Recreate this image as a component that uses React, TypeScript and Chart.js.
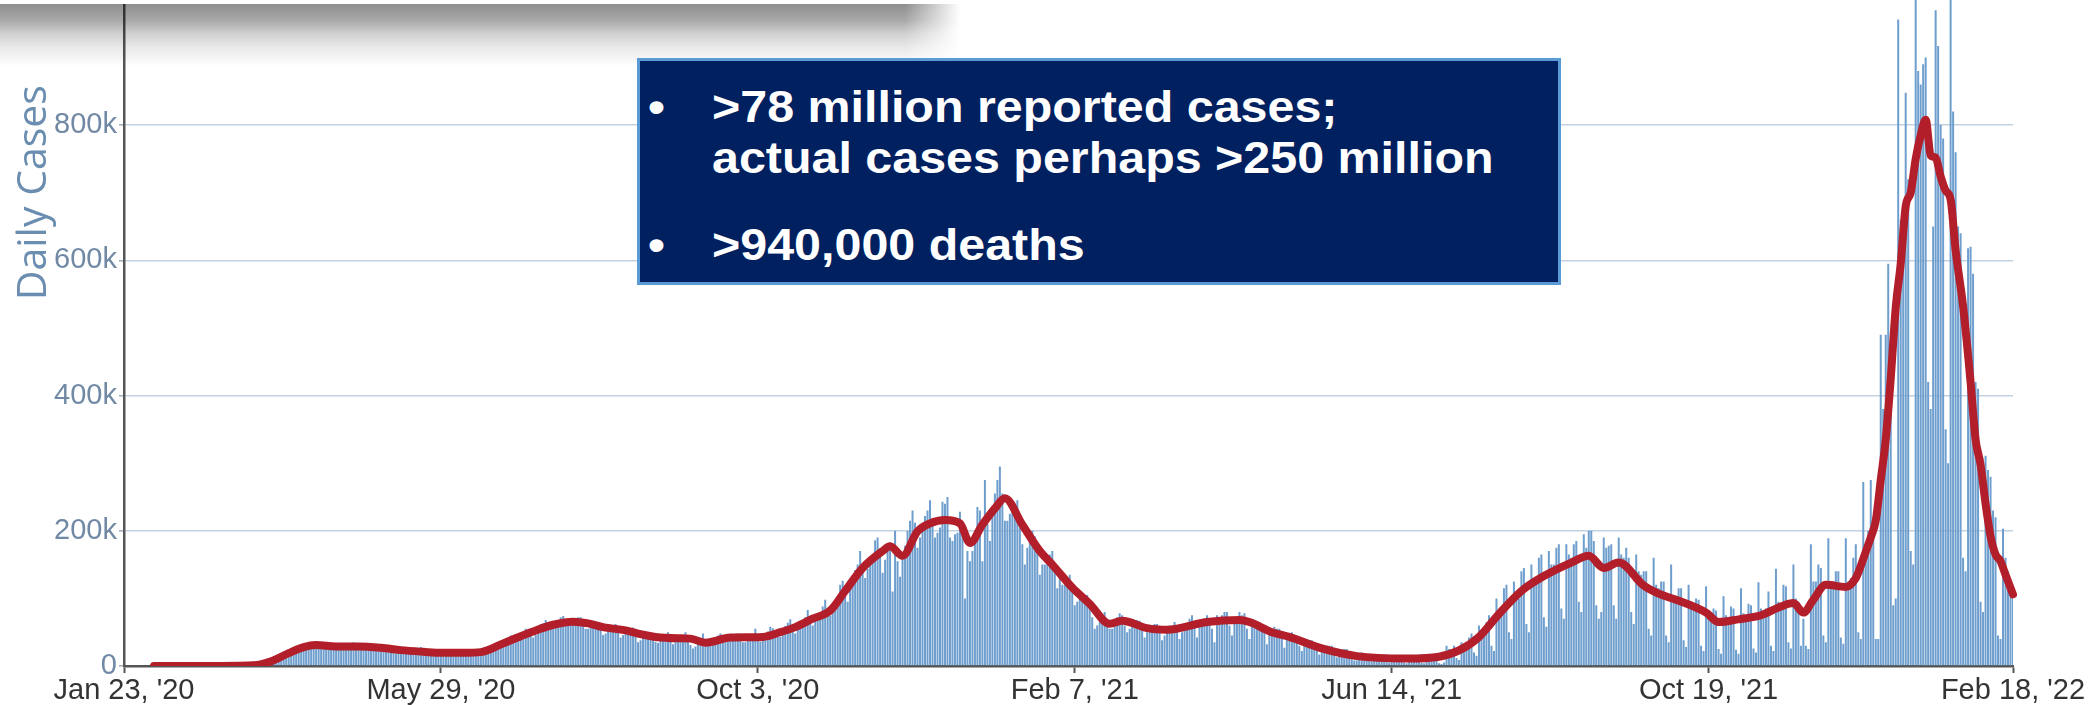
import React, { useEffect, useRef } from "react";
import { Chart, registerables } from "chart.js";

Chart.register(...registerables);

// ---- DATA ----
const startDate = "2020-01-23";

// Daily reported cases (thousands), one row per week starting on Thursday
const dailyCasesK = [
  0, 0, 0, 0, 0, 0, 0,
  0, 0, 0, 0, 0, 0, 0,
  0, 0, 0, 0, 0, 0, 0,
  0, 0, 0, 0, 0, 0, 0,
  0, 0, 0, 0, 0, 0, 0,
  0, 0, 0, 0, 0, 0.1, 0.1,
  0.1, 0.1, 0.1, 0.2, 0.2, 0.3, 0.5,
  0.5, 0.7, 0.9, 1.2, 1.8, 2.5, 3.5,
  4.6, 5.6, 6.9, 9, 10.5, 10, 12.8,
  17.5, 18.7, 19.5, 19, 20.5, 26, 25,
  29, 32, 33, 26, 29, 30, 31,
  34, 33, 30, 28, 25, 27, 29,
  32, 31, 29, 26, 26, 26, 28,
  33, 35, 32, 27, 24, 25, 29,
  30, 34, 29, 25, 23, 24, 25,
  28, 26, 25, 20, 18, 22, 21,
  27, 26, 24, 19, 21, 21, 21,
  28, 24, 23, 19, 19, 18, 19,
  22, 24, 23, 19, 18, 21, 20,
  22, 22, 21, 17, 17, 19, 21,
  23, 25, 25, 19, 19, 23, 26,
  28, 32, 31, 27, 29, 34, 38,
  40, 45, 43, 40, 42, 47, 51,
  55, 52, 45, 42, 46, 58, 62,
  63, 68, 61, 58, 60, 66, 67,
  72, 74, 65, 60, 60, 66, 70,
  72, 72, 64, 55, 55, 62, 67,
  66, 65, 58, 46, 48, 54, 55,
  58, 62, 55, 42, 46, 51, 54,
  54, 57, 48, 35, 38, 44, 46,
  47, 48, 43, 36, 34, 38, 43,
  45, 50, 42, 32, 36, 41, 42,
  44, 50, 43, 31, 26, 29, 34,
  35, 48, 40, 34, 33, 38, 40,
  45, 48, 43, 35, 36, 39, 39,
  47, 48, 43, 35, 35, 42, 43,
  46, 55, 47, 36, 38, 46, 51,
  58, 56, 48, 43, 43, 52, 59,
  64, 69, 55, 48, 56, 62, 62,
  72, 83, 73, 60, 67, 75, 79,
  88, 98, 86, 74, 89, 92, 103,
  120, 126, 108, 95, 118, 133, 142,
  150, 170, 152, 130, 144, 153, 160,
  186, 190, 165, 138, 157, 170, 183,
  110, 200, 155, 132, 160, 178, 200,
  215, 230, 212, 175, 190, 212, 222,
  230, 245, 218, 190, 197, 205, 243,
  240, 250, 190, 185, 195, 197, 228,
  200, 100, 170, 155, 170, 200, 235,
  230, 155, 275, 210, 185, 230, 255,
  275, 295, 255, 215, 215, 225, 230,
  240, 245, 205, 180, 150, 175, 190,
  200, 192, 170, 135, 150, 150, 160,
  165, 170, 145, 115, 135, 120, 120,
  130, 135, 110, 90, 95, 100, 100,
  105, 105, 90, 72, 55, 60, 65,
  70, 80, 70, 55, 55, 60, 72,
  78, 75, 60, 50, 55, 60, 65,
  68, 67, 55, 42, 50, 55, 58,
  62, 62, 50, 38, 45, 55, 60,
  60, 65, 55, 40, 50, 55, 62,
  70, 75, 60, 42, 60, 60, 70,
  75, 70, 55, 35, 75, 65, 75,
  80, 80, 60, 45, 65, 70, 80,
  75, 78, 55, 40, 60, 60, 65,
  65, 62, 50, 32, 50, 50, 58,
  55, 55, 40, 27, 42, 42, 50,
  45, 45, 30, 22, 34, 34, 38,
  38, 35, 25, 17, 25, 27, 30,
  30, 30, 18, 13, 22, 22, 25,
  25, 22, 10, 8, 8, 18, 20,
  17, 17, 9, 7, 13, 14, 15,
  14, 15, 7, 5, 12, 12, 13,
  13, 13, 5, 4, 13, 11, 12,
  14, 15, 5, 4, 17, 12, 14,
  16, 12, 4, 3, 5, 30, 25,
  25, 30, 12, 9, 35, 25, 28,
  42, 48, 20, 15, 60, 45, 48,
  65, 75, 30, 22, 100, 75, 78,
  115, 120, 50, 40, 125, 100, 100,
  140, 145, 62, 50, 150, 130, 130,
  160, 165, 72, 58, 170, 150, 150,
  175, 180, 85, 70, 180, 165, 160,
  180, 185, 95, 80, 195, 175, 200,
  200, 185, 90, 70, 80, 190, 175,
  178, 180, 90, 70, 190, 165, 160,
  175, 160, 80, 62, 165, 140, 135,
  140, 140, 55, 45, 160, 120, 115,
  125, 125, 45, 35, 150, 105, 100,
  115, 115, 38, 28, 120, 95, 90,
  100, 98, 30, 22, 118, 80, 75,
  85, 82, 25, 18, 103, 75, 72,
  88, 85, 24, 18, 115, 78, 72,
  92, 90, 26, 20, 124, 85, 80,
  85, 110, 30, 22, 144, 95, 90,
  120, 118, 35, 26, 150, 100, 95,
  30, 70, 30, 25, 180, 125, 125,
  150, 145, 45, 35, 189, 125, 125,
  140, 140, 42, 33, 189, 125, 130,
  160, 180, 50, 40, 272, 180, 200,
  275, 200, 40, 40, 490, 380, 490,
  595, 420, 90, 100, 956, 660, 680,
  848, 720, 170, 150, 1400, 880, 860,
  890, 900, 420, 380, 650, 970, 917,
  800, 780, 350, 300, 1050, 820, 760,
  650, 640, 160, 140, 618, 620, 580,
  420, 410, 95, 80, 311, 290, 280,
  230, 220, 45, 40, 203, 160, 140,
  115, 108,
];

// 7-day average (thousands)
const avgDates = [
  "2020-02-04", "2020-03-01", "2020-03-15", "2020-03-22", "2020-03-29", "2020-04-04", "2020-04-09",
  "2020-04-17", "2020-04-26", "2020-05-05", "2020-05-13", "2020-05-22", "2020-05-29", "2020-06-07",
  "2020-06-14", "2020-06-23", "2020-06-30", "2020-07-06", "2020-07-13", "2020-07-21", "2020-07-27",
  "2020-08-02", "2020-08-12", "2020-08-17", "2020-08-23", "2020-09-01", "2020-09-06", "2020-09-12",
  "2020-09-22", "2020-10-05", "2020-10-12", "2020-10-18", "2020-10-25", "2020-11-01", "2020-11-07",
  "2020-11-14", "2020-11-22", "2020-11-25", "2020-11-30", "2020-12-06", "2020-12-11", "2020-12-17",
  "2020-12-23", "2020-12-27", "2021-01-01", "2021-01-06", "2021-01-10", "2021-01-17", "2021-01-24",
  "2021-01-29", "2021-02-06", "2021-02-13", "2021-02-21", "2021-02-26", "2021-03-08", "2021-03-16",
  "2021-04-01", "2021-04-14", "2021-04-18", "2021-04-27", "2021-05-04", "2021-05-17", "2021-05-31",
  "2021-06-20", "2021-07-03", "2021-07-11", "2021-07-19", "2021-07-27", "2021-08-05", "2021-08-14",
  "2021-08-25", "2021-09-01", "2021-09-07", "2021-09-13", "2021-09-23", "2021-09-29", "2021-10-06",
  "2021-10-18", "2021-10-23", "2021-10-31", "2021-11-09", "2021-11-17", "2021-11-22", "2021-11-26",
  "2021-11-30", "2021-12-05", "2021-12-13", "2021-12-17", "2021-12-19", "2021-12-21", "2021-12-23",
  "2021-12-25", "2021-12-27", "2021-12-29", "2021-12-31", "2022-01-02", "2022-01-04", "2022-01-06",
  "2022-01-08", "2022-01-10", "2022-01-12", "2022-01-14", "2022-01-16", "2022-01-18", "2022-01-20",
  "2022-01-22", "2022-01-24", "2022-01-26", "2022-01-29", "2022-02-01", "2022-02-03", "2022-02-05",
  "2022-02-07", "2022-02-09", "2022-02-11", "2022-02-13", "2022-02-15", "2022-02-18",
];
const avgValuesK = [
  0, 0.1, 1, 7, 19, 28, 31,
  29, 29, 27, 23.5, 21, 19.5, 19.5,
  20.5, 33.5, 44, 52.5, 61, 65.5, 63,
  57.5, 52, 47, 43, 41, 40.5, 34.5,
  42, 43, 50, 57.5, 70, 82, 111,
  145, 170, 177, 163, 199, 211, 216,
  211, 182, 209, 233, 248, 209, 170,
  150, 116, 92, 62.5, 67, 56, 53.7,
  65, 68, 65, 50, 43, 26, 14.6,
  11, 13.7, 23, 43, 77, 111, 133,
  153, 163, 145, 153, 119, 107, 98,
  79, 65, 69, 75, 88, 93, 79,
  98, 120, 117, 130, 148, 169, 190,
  215, 275, 335, 425, 530, 595, 680,
  700, 750, 785, 808, 755, 752, 724,
  703, 690, 615, 532, 420, 335, 298,
  240, 192, 165, 155, 135, 106,
];

const tickDates = ["2020-01-23", "2020-05-29", "2020-10-03", "2021-02-07", "2021-06-14", "2021-10-19", "2022-02-18"];
const tickTexts = ["Jan 23, '20", "May 29, '20", "Oct 3, '20", "Feb 7, '21", "Jun 14, '21", "Oct 19, '21", "Feb 18, '22"];

const yMaxK = 1400;
const yStepK = 200;
const yTitle = "Daily Cases";

const calloutLines = [">78 million reported cases;", "actual cases perhaps >250 million", ">940,000 deaths"];

function buildDateLabels(start: string, n: number): string[] {
  const [y, m, d] = start.split("-").map(Number);
  const out: string[] = [];
  for (let i = 0; i < n; i++) {
    out.push(new Date(Date.UTC(y, m - 1, d + i)).toISOString().slice(0, 10));
  }
  return out;
}

export default function App() {
  const canvasRef = useRef<HTMLCanvasElement | null>(null);

  useEffect(() => {
    const labels = buildDateLabels(startDate, dailyCasesK.length);
    const indexOf = new Map<string, number>();
    labels.forEach((l, i) => indexOf.set(l, i));

    const avgSeries: (number | null)[] = labels.map(() => null);
    avgDates.forEach((d, i) => {
      const j = indexOf.get(d);
      if (j !== undefined) avgSeries[j] = avgValuesK[i];
    });

    const tickMap = new Map<number, string>();
    tickDates.forEach((d, i) => {
      const j = indexOf.get(d);
      if (j !== undefined) tickMap.set(j, tickTexts[i]);
    });

    const chart = new Chart(canvasRef.current as HTMLCanvasElement, {
      type: "bar",
      data: {
        labels,
        datasets: [
          {
            type: "line",
            data: avgSeries,
            borderColor: "#b21f2a",
            borderWidth: 8,
            pointRadius: 0,
            spanGaps: true,
            cubicInterpolationMode: "monotone",
            borderJoinStyle: "round",
            borderCapStyle: "round",
            fill: false,
          } as any,
          {
            type: "bar",
            data: dailyCasesK,
            backgroundColor: "#6e9ecd",
            barPercentage: 0.8,
            categoryPercentage: 1,
          } as any,
        ],
      },
      options: {
        animation: false,
        responsive: true,
        maintainAspectRatio: false,
        layout: { padding: { top: 11.7, right: 84, left: 0, bottom: 0 } },
        plugins: { legend: { display: false }, tooltip: { enabled: false } },
        scales: {
          x: {
            offset: false,
            grid: {
              offset: false,
              drawOnChartArea: false,
              drawTicks: true,
              tickLength: 7,
              tickWidth: 2,
              tickColor: (c: any) => (tickMap.has(c.index) ? "#555555" : "rgba(0,0,0,0)"),
            },
            border: { color: "#555555", width: 2.5 },
            ticks: {
              autoSkip: false,
              maxRotation: 0,
              minRotation: 0,
              padding: 1,
              color: "#333333",
              font: { family: "'Liberation Sans', Arial, sans-serif", size: 29 },
              callback: (_v: any, i: number) => tickMap.get(i) ?? "",
            },
            afterFit: (s: any) => {
              s.height = 39;
            },
          },
          y: {
            min: 0,
            max: yMaxK,
            ticks: {
              stepSize: yStepK,
              includeBounds: false,
              padding: 2,
              color: "#7189a5",
              font: { family: "'Liberation Sans', Arial, sans-serif", size: 29 },
              callback: (v: any) => (Number(v) === 0 ? "0" : `${v}k`),
            },
            grid: { color: "#c2d2e1", lineWidth: 1.6, tickLength: 5, tickColor: "#a5b0bb" },
            border: { color: "#555555", width: 2.5 },
            title: {
              display: true,
              text: yTitle,
              color: "#6a8db0",
              padding: { top: 10, bottom: 0 },
              font: { family: "'Open Sans', sans-serif", size: 41 },
            },
            afterFit: (s: any) => {
              s.width = 124;
            },
          },
        },
      },
    });
    return () => chart.destroy();
  }, []);

  const calloutFont: React.CSSProperties = {
    position: "absolute",
    color: "#ffffff",
    fontFamily: "'Liberation Sans', Arial, sans-serif",
    fontWeight: 700,
    fontSize: 44,
    lineHeight: "44px",
    whiteSpace: "nowrap",
    transform: "scaleX(1.1)",
    transformOrigin: "left top",
  };
  const lineTops = [85, 136, 223];
  const bulletTops = [85, 223];

  return (
    <div style={{ position: "absolute", left: 0, top: 0, width: 2097, height: 705, overflow: "hidden", background: "#fff" }}>
      <div style={{ position: "absolute", left: 0, top: -300, width: 2097, height: 1005 }}>
        <canvas ref={canvasRef} />
      </div>
      {/* clipped shape with shadow at the top-left */}
      <div
        style={{
          position: "absolute",
          left: 0,
          top: 4,
          width: 960,
          height: 62,
          background:
            "linear-gradient(to bottom, rgba(0,0,0,0.44) 0px, rgba(0,0,0,0.34) 16px, rgba(0,0,0,0.19) 29px, rgba(0,0,0,0.09) 43px, rgba(0,0,0,0.03) 56px, rgba(0,0,0,0) 62px)",
          WebkitMaskImage: "linear-gradient(to right, #000 0px, #000 905px, transparent 960px)",
          maskImage: "linear-gradient(to right, #000 0px, #000 905px, transparent 960px)",
        }}
      />
      <div style={{ position: "absolute", left: 0, top: 0, width: 918, height: 4, background: "#ffffff" }} />
      {/* callout box */}
      <div
        style={{
          position: "absolute",
          left: 637,
          top: 58,
          width: 924,
          height: 227,
          boxSizing: "border-box",
          background: "#002060",
          border: "3px solid #5b9bd5",
        }}
      />
      {bulletTops.map((t, i) => (
        <div key={"b" + i} style={{ ...calloutFont, left: 648, top: t }}>
          •
        </div>
      ))}
      {calloutLines.map((txt, i) => (
        <div key={"l" + i} style={{ ...calloutFont, left: 712, top: lineTops[i] }}>
          {txt}
        </div>
      ))}
    </div>
  );
}
